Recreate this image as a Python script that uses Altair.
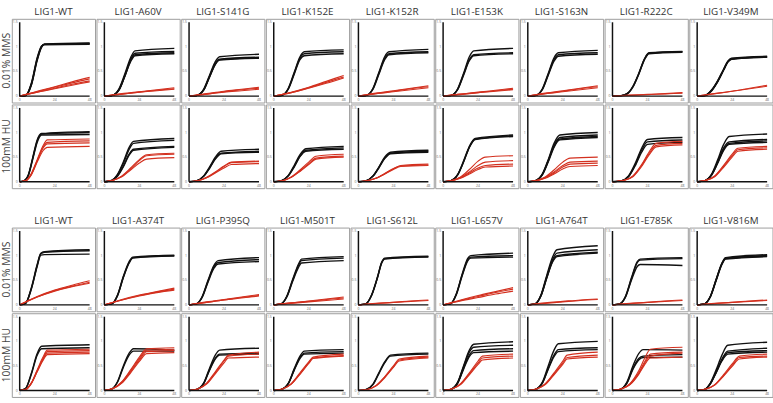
import altair as alt
import pandas as pd

TOP_GENOS = ["LIG1-WT", "LIG1-A60V", "LIG1-S141G", "LIG1-K152E", "LIG1-K152R",
             "LIG1-E153K", "LIG1-S163N", "LIG1-R222C", "LIG1-V349M"]
BOTTOM_GENOS = ["LIG1-WT", "LIG1-A374T", "LIG1-P395Q", "LIG1-M501T", "LIG1-S612L",
                "LIG1-L657V", "LIG1-A764T", "LIG1-E785K", "LIG1-V816M"]
CONDITIONS = ["0.01% MMS", "100mM HU"]
X_TICKS = [0, 24, 48]
X_TICK_LABELS = ["0", "24", "48"]
Y_TICKS = [0, 0.5, 1, 1.5]
Y_TICK_LABELS = ["0", "0.5", "1", "1.5"]
AXIS_X = [0, 48]
AXIS_Y = [0, 1.5]
X_DOMAIN = [-5.4, 51.7]
Y_DOMAIN = [-0.13, 1.57]
MMS_RED_X = [0, 12, 24, 36, 48]

# ---------------- top block, 0.01% MMS ----------------
T_MMS_WT = dict(bx=[0, 4, 8, 12, 15, 17, 48],
                black=[[0, 0.01, 0.25, 0.76, 1.01, 1.06, 1.08],
                       [0, 0.01, 0.23, 0.74, 1.00, 1.05, 1.07],
                       [0, 0.01, 0.26, 0.78, 1.02, 1.05, 1.06],
                       [0, 0.01, 0.22, 0.72, 0.99, 1.04, 1.05]],
                red=[[0, 0.10, 0.19, 0.29, 0.38], [0, 0.09, 0.18, 0.27, 0.35],
                     [0, 0.08, 0.16, 0.24, 0.31], [0, 0.08, 0.15, 0.22, 0.29]])
T_MMS_A60V = dict(bx=[0, 5, 10, 14, 18, 21, 48],
                  black=[[0, 0.01, 0.15, 0.45, 0.78, 0.92, 0.97],
                         [0, 0.01, 0.13, 0.42, 0.74, 0.87, 0.91],
                         [0, 0.01, 0.12, 0.40, 0.72, 0.84, 0.88],
                         [0, 0.01, 0.12, 0.40, 0.70, 0.82, 0.86]],
                  red=[[0, 0.05, 0.09, 0.13, 0.17], [0, 0.04, 0.08, 0.12, 0.15],
                       [0, 0.04, 0.08, 0.11, 0.14]])
T_MMS_S141G = dict(bx=[0, 5, 10, 14, 18, 21, 48],
                   black=[[0, 0.01, 0.14, 0.42, 0.70, 0.80, 0.85],
                          [0, 0.01, 0.13, 0.40, 0.66, 0.75, 0.79],
                          [0, 0.01, 0.12, 0.39, 0.65, 0.74, 0.78],
                          [0, 0.01, 0.12, 0.38, 0.64, 0.73, 0.77]],
                   red=[[0, 0.05, 0.10, 0.14, 0.18], [0, 0.04, 0.09, 0.13, 0.16],
                        [0, 0.04, 0.08, 0.11, 0.14]])
T_MMS_K152E = dict(bx=[0, 5, 10, 14, 18, 21, 48],
                   black=[[0, 0.01, 0.16, 0.48, 0.80, 0.90, 0.94],
                          [0, 0.01, 0.15, 0.46, 0.77, 0.86, 0.90],
                          [0, 0.01, 0.14, 0.44, 0.74, 0.82, 0.86]],
                   red=[[0, 0.08, 0.18, 0.30, 0.42], [0, 0.07, 0.17, 0.28, 0.39],
                        [0, 0.07, 0.16, 0.26, 0.37]])
T_MMS_K152R = dict(bx=[0, 5, 10, 14, 18, 21, 48],
                   black=[[0, 0.01, 0.16, 0.48, 0.80, 0.90, 0.95],
                          [0, 0.01, 0.15, 0.46, 0.76, 0.86, 0.90],
                          [0, 0.01, 0.14, 0.44, 0.74, 0.84, 0.88]],
                   red=[[0, 0.06, 0.11, 0.16, 0.21], [0, 0.05, 0.10, 0.15, 0.19],
                        [0, 0.05, 0.09, 0.13, 0.17]])
T_MMS_E153K = dict(bx=[0, 5, 10, 14, 18, 21, 48],
                   black=[[0, 0.01, 0.15, 0.46, 0.80, 0.92, 0.97],
                          [0, 0.01, 0.14, 0.44, 0.74, 0.84, 0.88],
                          [0, 0.01, 0.13, 0.42, 0.72, 0.82, 0.86]],
                   red=[[0, 0.04, 0.08, 0.12, 0.16], [0, 0.04, 0.07, 0.11, 0.14],
                        [0, 0.03, 0.07, 0.10, 0.13]])
T_MMS_S163N = dict(bx=[0, 5, 10, 14, 18, 21, 48],
                   black=[[0, 0.01, 0.15, 0.46, 0.78, 0.88, 0.93],
                          [0, 0.01, 0.14, 0.44, 0.74, 0.84, 0.88],
                          [0, 0.01, 0.13, 0.42, 0.71, 0.81, 0.85]],
                   red=[[0, 0.06, 0.11, 0.16, 0.21], [0, 0.05, 0.10, 0.15, 0.19],
                        [0, 0.05, 0.09, 0.13, 0.17]])
T_MMS_R222C = dict(bx=[0, 6, 10, 14, 18, 22, 25, 48],
                   black=[[0, 0.01, 0.05, 0.20, 0.46, 0.76, 0.88, 0.91],
                          [0, 0.01, 0.05, 0.19, 0.45, 0.75, 0.87, 0.90],
                          [0, 0.01, 0.04, 0.18, 0.44, 0.74, 0.86, 0.89]],
                   red=[[0, 0.02, 0.035, 0.05, 0.07], [0, 0.015, 0.03, 0.045, 0.06]])
T_MMS_V349M = dict(bx=[0, 5, 10, 14, 18, 21, 23.5, 48],
                   black=[[0, 0.01, 0.13, 0.31, 0.54, 0.71, 0.77, 0.81],
                          [0, 0.01, 0.12, 0.30, 0.53, 0.70, 0.76, 0.80],
                          [0, 0.01, 0.12, 0.29, 0.52, 0.69, 0.75, 0.79],
                          [0, 0.01, 0.11, 0.29, 0.52, 0.69, 0.75, 0.79]],
                   red=[[0, 0.05, 0.10, 0.16, 0.22], [0, 0.05, 0.10, 0.15, 0.20]])

# ---------------- top block, 100mM HU ----------------
T_HU_WT = dict(bx=[0, 3, 6, 9, 12, 15, 48],
               black=[[0, 0.02, 0.15, 0.50, 0.85, 0.98, 1.02],
                      [0, 0.02, 0.14, 0.48, 0.83, 0.97, 1.00],
                      [0, 0.02, 0.13, 0.46, 0.80, 0.95, 0.96]],
               rx=[0, 4, 8, 12, 16, 19, 48],
               red=[[0, 0.02, 0.17, 0.45, 0.73, 0.85, 0.87],
                    [0, 0.02, 0.16, 0.43, 0.70, 0.80, 0.83],
                    [0, 0.02, 0.15, 0.42, 0.68, 0.77, 0.79],
                    [0, 0.02, 0.14, 0.40, 0.63, 0.70, 0.72]])
T_HU_A60V = dict(bx=[0, 5, 9, 13, 17, 20, 48],
                 black=[[0, 0.03, 0.15, 0.40, 0.70, 0.82, 0.88],
                        [0, 0.03, 0.14, 0.37, 0.66, 0.78, 0.84],
                        [0, 0.02, 0.12, 0.32, 0.56, 0.66, 0.72],
                        [0, 0.02, 0.11, 0.30, 0.54, 0.64, 0.70]],
                 rx=[0, 6, 12, 18, 24, 29, 48],
                 red=[[0, 0.03, 0.12, 0.28, 0.45, 0.55, 0.58],
                      [0, 0.03, 0.11, 0.26, 0.43, 0.53, 0.56],
                      [0, 0.03, 0.10, 0.24, 0.38, 0.46, 0.49]])
T_HU_S141G = dict(bx=[0, 5, 10, 14, 18, 22, 48],
                  black=[[0, 0.02, 0.12, 0.30, 0.50, 0.62, 0.66],
                         [0, 0.02, 0.11, 0.28, 0.47, 0.58, 0.62],
                         [0, 0.02, 0.11, 0.27, 0.46, 0.57, 0.60]],
                  rx=[0, 6, 12, 18, 24, 29, 48],
                  red=[[0, 0.02, 0.09, 0.20, 0.32, 0.40, 0.42],
                       [0, 0.02, 0.08, 0.19, 0.31, 0.39, 0.41],
                       [0, 0.02, 0.08, 0.18, 0.28, 0.35, 0.37]])
T_HU_K152E = dict(bx=[0, 5, 10, 14, 18, 22, 48],
                  black=[[0, 0.02, 0.13, 0.33, 0.55, 0.67, 0.72],
                         [0, 0.02, 0.12, 0.31, 0.52, 0.64, 0.69],
                         [0, 0.02, 0.12, 0.30, 0.51, 0.62, 0.66]],
                  rx=[0, 6, 12, 18, 24, 29, 48],
                  red=[[0, 0.02, 0.10, 0.24, 0.40, 0.52, 0.56],
                       [0, 0.02, 0.09, 0.22, 0.37, 0.48, 0.52],
                       [0, 0.02, 0.09, 0.21, 0.35, 0.46, 0.50]])
T_HU_K152R = dict(bx=[0, 5, 10, 14, 18, 22, 48],
                  black=[[0, 0.02, 0.12, 0.30, 0.50, 0.60, 0.64],
                         [0, 0.02, 0.12, 0.29, 0.48, 0.58, 0.62],
                         [0, 0.02, 0.11, 0.28, 0.47, 0.57, 0.60]],
                  rx=[0, 6, 12, 18, 24, 29, 48],
                  red=[[0, 0.02, 0.07, 0.17, 0.27, 0.33, 0.36],
                       [0, 0.02, 0.07, 0.16, 0.26, 0.32, 0.34],
                       [0, 0.02, 0.07, 0.16, 0.25, 0.31, 0.33]])
T_HU_E153K = dict(bx=[0, 5, 10, 14, 18, 22, 48],
                  black=[[0, 0.02, 0.15, 0.42, 0.72, 0.88, 0.95],
                         [0, 0.02, 0.14, 0.40, 0.70, 0.87, 0.93],
                         [0, 0.02, 0.14, 0.40, 0.70, 0.86, 0.92]],
                  rx=[0, 6, 12, 18, 24, 29, 48],
                  red=[[0, 0.03, 0.10, 0.25, 0.42, 0.50, 0.53],
                       [0, 0.02, 0.09, 0.20, 0.33, 0.40, 0.43],
                       [0, 0.02, 0.08, 0.18, 0.28, 0.33, 0.36],
                       [0, 0.02, 0.07, 0.16, 0.25, 0.30, 0.32]])
T_HU_S163N = dict(bx=[0, 5, 10, 14, 18, 22, 48],
                  black=[[0, 0.02, 0.16, 0.45, 0.78, 0.95, 1.00],
                         [0, 0.02, 0.15, 0.43, 0.74, 0.90, 0.95],
                         [0, 0.02, 0.15, 0.42, 0.72, 0.87, 0.92],
                         [0, 0.02, 0.14, 0.40, 0.70, 0.85, 0.90]],
                  rx=[0, 6, 12, 18, 24, 29, 48],
                  red=[[0, 0.03, 0.10, 0.24, 0.40, 0.48, 0.50],
                       [0, 0.02, 0.09, 0.20, 0.33, 0.40, 0.42],
                       [0, 0.02, 0.08, 0.18, 0.30, 0.36, 0.38],
                       [0, 0.02, 0.07, 0.16, 0.26, 0.31, 0.33]])
T_HU_R222C = dict(bx=[0, 6, 11, 16, 20, 24, 48],
                  black=[[0, 0.02, 0.12, 0.40, 0.68, 0.86, 0.90],
                         [0, 0.02, 0.11, 0.37, 0.64, 0.81, 0.85],
                         [0, 0.02, 0.10, 0.35, 0.60, 0.76, 0.80]],
                  rx=[0, 8, 14, 20, 25, 30, 48],
                  red=[[0, 0.03, 0.12, 0.35, 0.60, 0.78, 0.82],
                       [0, 0.03, 0.11, 0.33, 0.57, 0.74, 0.78],
                       [0, 0.03, 0.10, 0.31, 0.54, 0.71, 0.75]])
T_HU_V349M = dict(bx=[0, 5, 10, 14, 18, 22, 48],
                  black=[[0, 0.02, 0.16, 0.44, 0.75, 0.92, 0.97],
                         [0, 0.02, 0.15, 0.40, 0.68, 0.81, 0.86],
                         [0, 0.02, 0.14, 0.38, 0.65, 0.78, 0.83],
                         [0, 0.02, 0.14, 0.37, 0.63, 0.76, 0.80]],
                  rx=[0, 6, 12, 18, 24, 28, 48],
                  red=[[0, 0.03, 0.12, 0.33, 0.56, 0.68, 0.72],
                       [0, 0.03, 0.11, 0.31, 0.53, 0.65, 0.69],
                       [0, 0.03, 0.10, 0.29, 0.50, 0.62, 0.66]])

# ---------------- bottom block, 0.01% MMS ----------------
B_MMS_WT = dict(bx=[0, 4, 8, 12, 14.5, 17, 48],
                black=[[0, 0.03, 0.35, 0.82, 1.05, 1.08, 1.12],
                       [0, 0.03, 0.33, 0.80, 1.04, 1.07, 1.10],
                       [0, 0.03, 0.32, 0.78, 1.01, 1.02, 1.03]],
                red=[[0, 0.17, 0.30, 0.40, 0.49], [0, 0.16, 0.29, 0.38, 0.46],
                     [0, 0.16, 0.28, 0.37, 0.44]])
B_MMS_A374T = dict(bx=[0, 5, 9, 13, 17, 19.5, 48],
                   black=[[0, 0.02, 0.20, 0.58, 0.88, 0.97, 1.01],
                          [0, 0.02, 0.19, 0.56, 0.86, 0.96, 1.00],
                          [0, 0.02, 0.18, 0.55, 0.85, 0.95, 0.99]],
                   red=[[0, 0.11, 0.20, 0.27, 0.34], [0, 0.10, 0.19, 0.26, 0.32],
                        [0, 0.10, 0.18, 0.25, 0.30]])
B_MMS_P395Q = dict(bx=[0, 5, 9, 13, 17, 20, 48],
                   black=[[0, 0.02, 0.17, 0.50, 0.80, 0.90, 0.96],
                          [0, 0.02, 0.16, 0.48, 0.77, 0.86, 0.92],
                          [0, 0.02, 0.15, 0.46, 0.74, 0.83, 0.88]],
                   red=[[0, 0.06, 0.11, 0.16, 0.21], [0, 0.05, 0.10, 0.15, 0.19],
                        [0, 0.05, 0.10, 0.14, 0.18]])
B_MMS_M501T = dict(bx=[0, 5, 9, 13, 17, 19, 48],
                   black=[[0, 0.02, 0.18, 0.52, 0.83, 0.93, 0.98],
                          [0, 0.02, 0.17, 0.50, 0.80, 0.90, 0.95],
                          [0, 0.02, 0.16, 0.48, 0.76, 0.85, 0.90]],
                   red=[[0, 0.04, 0.08, 0.12, 0.16], [0, 0.04, 0.07, 0.11, 0.14],
                        [0, 0.03, 0.06, 0.09, 0.12]])
B_MMS_S612L = dict(bx=[0, 5, 9, 13, 16, 18, 48],
                   black=[[0, 0.02, 0.20, 0.56, 0.87, 0.95, 0.99],
                          [0, 0.02, 0.19, 0.55, 0.86, 0.94, 0.98],
                          [0, 0.02, 0.19, 0.54, 0.85, 0.93, 0.97]],
                   red=[[0, 0.03, 0.05, 0.08, 0.10], [0, 0.025, 0.05, 0.07, 0.09]])
B_MMS_L657V = dict(bx=[0, 5, 9, 13, 17, 19, 48],
                   black=[[0, 0.02, 0.22, 0.62, 0.95, 1.00, 1.05],
                          [0, 0.02, 0.21, 0.60, 0.92, 0.97, 1.00],
                          [0, 0.02, 0.20, 0.58, 0.90, 0.95, 0.97]],
                   red=[[0, 0.10, 0.19, 0.27, 0.35], [0, 0.09, 0.17, 0.25, 0.32],
                        [0, 0.08, 0.15, 0.22, 0.28]])
B_MMS_A764T = dict(bx=[0, 5, 9, 13, 17, 20, 48],
                   black=[[0, 0.02, 0.20, 0.60, 0.97, 1.12, 1.20],
                          [0, 0.02, 0.19, 0.57, 0.92, 1.05, 1.12],
                          [0, 0.02, 0.18, 0.55, 0.89, 1.00, 1.07],
                          [0, 0.02, 0.18, 0.54, 0.87, 0.98, 1.05]],
                   red=[[0, 0.04, 0.07, 0.10, 0.12], [0, 0.03, 0.06, 0.09, 0.11]])
B_MMS_E785K = dict(bx=[0, 5, 9, 13, 17, 19, 48],
                   black=[[0, 0.02, 0.18, 0.55, 0.88, 0.93, 0.96],
                          [0, 0.02, 0.17, 0.53, 0.86, 0.91, 0.94],
                          [0, 0.02, 0.16, 0.50, 0.78, 0.82, 0.80]],
                   red=[[0, 0.03, 0.05, 0.08, 0.10], [0, 0.025, 0.05, 0.07, 0.09]])
B_MMS_V816M = dict(bx=[0, 5, 9, 13, 17, 19.5, 48],
                   black=[[0, 0.02, 0.17, 0.52, 0.85, 0.96, 1.02],
                          [0, 0.02, 0.17, 0.51, 0.84, 0.95, 1.00],
                          [0, 0.02, 0.16, 0.50, 0.83, 0.94, 0.99],
                          [0, 0.02, 0.16, 0.49, 0.82, 0.93, 0.98]],
                   red=[[0, 0.03, 0.05, 0.08, 0.10], [0, 0.025, 0.05, 0.07, 0.09]])

# ---------------- bottom block, 100mM HU ----------------
B_HU_WT = dict(bx=[0, 4, 8, 12, 15, 48],
               black=[[0, 0.04, 0.35, 0.75, 0.90, 0.93],
                      [0, 0.04, 0.33, 0.72, 0.85, 0.87]],
               rx=[0, 4, 8, 12, 16, 19, 48],
               red=[[0, 0.02, 0.16, 0.42, 0.68, 0.82, 0.84],
                    [0, 0.02, 0.15, 0.40, 0.65, 0.79, 0.81],
                    [0, 0.02, 0.15, 0.39, 0.63, 0.76, 0.78],
                    [0, 0.02, 0.14, 0.38, 0.61, 0.73, 0.75]])
B_HU_A374T = dict(bx=[0, 5, 9, 13, 17, 20, 48],
                  black=[[0, 0.03, 0.18, 0.50, 0.76, 0.85, 0.82],
                         [0, 0.03, 0.17, 0.47, 0.72, 0.80, 0.80]],
                  rx=[0, 6, 12, 18, 24, 29, 48],
                  red=[[0, 0.04, 0.18, 0.42, 0.68, 0.85, 0.87],
                       [0, 0.04, 0.17, 0.40, 0.65, 0.82, 0.84],
                       [0, 0.04, 0.16, 0.38, 0.62, 0.79, 0.81],
                       [0, 0.04, 0.15, 0.36, 0.59, 0.75, 0.77]])
B_HU_P395Q = dict(bx=[0, 5, 10, 14, 18, 21, 48],
                  black=[[0, 0.02, 0.15, 0.45, 0.72, 0.82, 0.86],
                         [0, 0.02, 0.14, 0.42, 0.66, 0.74, 0.76],
                         [0, 0.02, 0.14, 0.41, 0.64, 0.72, 0.74]],
                  rx=[0, 6, 12, 18, 24, 27, 48],
                  red=[[0, 0.03, 0.15, 0.38, 0.62, 0.72, 0.78],
                       [0, 0.03, 0.14, 0.36, 0.60, 0.70, 0.74],
                       [0, 0.03, 0.13, 0.34, 0.56, 0.66, 0.68]])
B_HU_M501T = dict(bx=[0, 5, 10, 14, 18, 21, 48],
                  black=[[0, 0.02, 0.15, 0.44, 0.70, 0.80, 0.83],
                         [0, 0.02, 0.14, 0.42, 0.67, 0.76, 0.79],
                         [0, 0.02, 0.14, 0.41, 0.65, 0.74, 0.76]],
                  rx=[0, 6, 12, 18, 24, 27, 48],
                  red=[[0, 0.03, 0.14, 0.36, 0.58, 0.68, 0.74],
                       [0, 0.03, 0.13, 0.34, 0.56, 0.66, 0.71],
                       [0, 0.03, 0.13, 0.33, 0.55, 0.65, 0.70]])
B_HU_S612L = dict(bx=[0, 5, 10, 14, 18, 22, 48],
                  black=[[0, 0.02, 0.13, 0.36, 0.58, 0.72, 0.76],
                         [0, 0.02, 0.12, 0.34, 0.56, 0.70, 0.74]],
                  rx=[0, 6, 12, 18, 24, 28, 48],
                  red=[[0, 0.02, 0.10, 0.28, 0.50, 0.64, 0.70],
                       [0, 0.02, 0.10, 0.27, 0.48, 0.62, 0.68],
                       [0, 0.02, 0.09, 0.26, 0.47, 0.60, 0.66]])
B_HU_L657V = dict(bx=[0, 5, 10, 14, 18, 21, 48],
                  black=[[0, 0.02, 0.17, 0.50, 0.82, 0.94, 0.99],
                         [0, 0.02, 0.16, 0.48, 0.78, 0.88, 0.92],
                         [0, 0.02, 0.15, 0.45, 0.72, 0.81, 0.85],
                         [0, 0.02, 0.15, 0.43, 0.69, 0.77, 0.80]],
                  rx=[0, 6, 12, 18, 24, 27, 48],
                  red=[[0, 0.03, 0.14, 0.36, 0.60, 0.70, 0.74],
                       [0, 0.03, 0.13, 0.34, 0.56, 0.66, 0.70],
                       [0, 0.03, 0.12, 0.32, 0.53, 0.62, 0.66]])
B_HU_A764T = dict(bx=[0, 5, 10, 14, 18, 21, 48],
                  black=[[0, 0.02, 0.17, 0.50, 0.82, 0.95, 1.00],
                         [0, 0.02, 0.15, 0.45, 0.72, 0.83, 0.87],
                         [0, 0.02, 0.15, 0.43, 0.69, 0.79, 0.83]],
                  rx=[0, 6, 12, 18, 24, 27, 48],
                  red=[[0, 0.03, 0.14, 0.36, 0.60, 0.72, 0.78],
                       [0, 0.03, 0.13, 0.34, 0.56, 0.67, 0.72],
                       [0, 0.03, 0.12, 0.32, 0.53, 0.64, 0.68]])
B_HU_E785K = dict(bx=[0, 5, 10, 14, 18, 21, 48],
                  black=[[0, 0.02, 0.18, 0.50, 0.75, 0.83, 0.82],
                         [0, 0.02, 0.16, 0.45, 0.65, 0.70, 0.73],
                         [0, 0.02, 0.15, 0.43, 0.62, 0.67, 0.68]],
                  rx=[0, 6, 12, 18, 22, 26, 48],
                  red=[[0, 0.03, 0.14, 0.40, 0.65, 0.84, 0.88],
                       [0, 0.03, 0.13, 0.36, 0.58, 0.74, 0.78],
                       [0, 0.03, 0.12, 0.34, 0.55, 0.70, 0.76],
                       [0, 0.03, 0.12, 0.33, 0.52, 0.66, 0.68]])
B_HU_V816M = dict(bx=[0, 5, 9, 13, 17, 21, 48],
                  black=[[0, 0.02, 0.15, 0.42, 0.72, 0.92, 0.98],
                         [0, 0.02, 0.14, 0.38, 0.64, 0.80, 0.86],
                         [0, 0.02, 0.14, 0.37, 0.62, 0.77, 0.81],
                         [0, 0.02, 0.13, 0.36, 0.60, 0.74, 0.78]],
                  rx=[0, 6, 12, 18, 24, 29, 48],
                  red=[[0, 0.03, 0.12, 0.32, 0.54, 0.70, 0.74],
                       [0, 0.03, 0.11, 0.30, 0.51, 0.67, 0.70],
                       [0, 0.03, 0.11, 0.29, 0.49, 0.64, 0.68]])

TOP_MMS = [T_MMS_WT, T_MMS_A60V, T_MMS_S141G, T_MMS_K152E, T_MMS_K152R,
           T_MMS_E153K, T_MMS_S163N, T_MMS_R222C, T_MMS_V349M]
TOP_HU = [T_HU_WT, T_HU_A60V, T_HU_S141G, T_HU_K152E, T_HU_K152R,
          T_HU_E153K, T_HU_S163N, T_HU_R222C, T_HU_V349M]
BOT_MMS = [B_MMS_WT, B_MMS_A374T, B_MMS_P395Q, B_MMS_M501T, B_MMS_S612L,
           B_MMS_L657V, B_MMS_A764T, B_MMS_E785K, B_MMS_V816M]
BOT_HU = [B_HU_WT, B_HU_A374T, B_HU_P395Q, B_HU_M501T, B_HU_S612L,
          B_HU_L657V, B_HU_A764T, B_HU_E785K, B_HU_V816M]


def panel_rows(geno, cond, p):
    rows = [dict(geno=geno, cond=cond, kind="axis", series="axis",
                 ax0=AXIS_X[0], ax1=AXIS_X[1], ay0=AXIS_Y[0], ay1=AXIS_Y[1])]
    for v, t in zip(Y_TICKS, Y_TICK_LABELS):
        rows.append(dict(geno=geno, cond=cond, kind="ytick", series="ytick",
                         ax0=AXIS_X[0], ay0=AXIS_Y[0], tv=v, tl=t))
    for v, t in zip(X_TICKS, X_TICK_LABELS):
        rows.append(dict(geno=geno, cond=cond, kind="xtick", series="xtick",
                         ax0=AXIS_X[0], ay0=AXIS_Y[0], tv=v, tl=t))
    for i, ys in enumerate(p["black"]):
        for x, y in zip(p["bx"], ys):
            rows.append(dict(geno=geno, cond=cond, kind="black", series=f"b{i}", x=x, y=y))
    rx = p.get("rx", MMS_RED_X)
    for i, ys in enumerate(p["red"]):
        for x, y in zip(rx, ys):
            rows.append(dict(geno=geno, cond=cond, kind="red", series=f"r{i}", x=x, y=y))
    return rows


FONT = "Open Sans"


def make_block(genos, mms, hu):
    rows = []
    for g, p in zip(genos, mms):
        rows += panel_rows(g, CONDITIONS[0], p)
    for g, p in zip(genos, hu):
        rows += panel_rows(g, CONDITIONS[1], p)
    df = pd.DataFrame(rows)

    xscale = alt.Scale(domain=X_DOMAIN, nice=False, zero=False)
    yscale = alt.Scale(domain=Y_DOMAIN, nice=False, zero=False)

    base = alt.Chart()
    black = base.transform_filter("datum.kind == 'black'").mark_line(
        interpolate="monotone", color="#111111", strokeWidth=1.4
    ).encode(x=alt.X("x:Q", scale=xscale, axis=None),
             y=alt.Y("y:Q", scale=yscale, axis=None),
             detail="series:N")
    red = base.transform_filter("datum.kind == 'red'").mark_line(
        interpolate="monotone", color="#d3301f", strokeWidth=1.15
    ).encode(x=alt.X("x:Q", scale=xscale, axis=None),
             y=alt.Y("y:Q", scale=yscale, axis=None),
             detail="series:N")
    yrule = base.transform_filter("datum.kind == 'axis'").mark_rule(
        color="#111111", strokeWidth=1.5
    ).encode(x=alt.X("ax0:Q", scale=xscale, axis=None),
             y=alt.Y("ay0:Q", scale=yscale, axis=None), y2="ay1:Q")
    xrule = base.transform_filter("datum.kind == 'axis'").mark_rule(
        color="#111111", strokeWidth=1.5
    ).encode(x=alt.X("ax0:Q", scale=xscale, axis=None), x2="ax1:Q",
             y=alt.Y("ay0:Q", scale=yscale, axis=None))
    ylab = base.transform_filter("datum.kind == 'ytick'").mark_text(
        align="right", baseline="middle", dx=-2, fontSize=3.5, color="#666", font=FONT
    ).encode(x=alt.X("ax0:Q", scale=xscale, axis=None),
             y=alt.Y("tv:Q", scale=yscale, axis=None), text="tl:N")
    xlab = base.transform_filter("datum.kind == 'xtick'").mark_text(
        align="center", baseline="top", dy=2, fontSize=3.5, color="#666", font=FONT
    ).encode(x=alt.X("tv:Q", scale=xscale, axis=None),
             y=alt.Y("ay0:Q", scale=yscale, axis=None), text="tl:N")

    layer = alt.layer(black, red, yrule, xrule, ylab, xlab, data=df).properties(
        width=84.5, height=85)
    return layer.facet(
        row=alt.Row("cond:N", sort=CONDITIONS,
                    header=alt.Header(title=None, labelAngle=-90, labelOrient="left",
                                      labelFontSize=10.5, labelColor="#444",
                                      labelFont=FONT, labelPadding=-7)),
        column=alt.Column("geno:N", sort=genos,
                          header=alt.Header(title=None, labelFontSize=10, labelColor="#333",
                                            labelFont=FONT, labelPadding=1)),
        spacing=0,
    )


top = make_block(TOP_GENOS, TOP_MMS, TOP_HU)
bottom = make_block(BOTTOM_GENOS, BOT_MMS, BOT_HU)

chart = alt.vconcat(top, bottom, spacing=27).properties(
    padding={"left": 2, "top": 4, "right": 0, "bottom": 0}
).configure_view(stroke="#9c9c9c", strokeWidth=1)

chart.save("out.html", embed_options={"renderer": "svg", "actions": False})
